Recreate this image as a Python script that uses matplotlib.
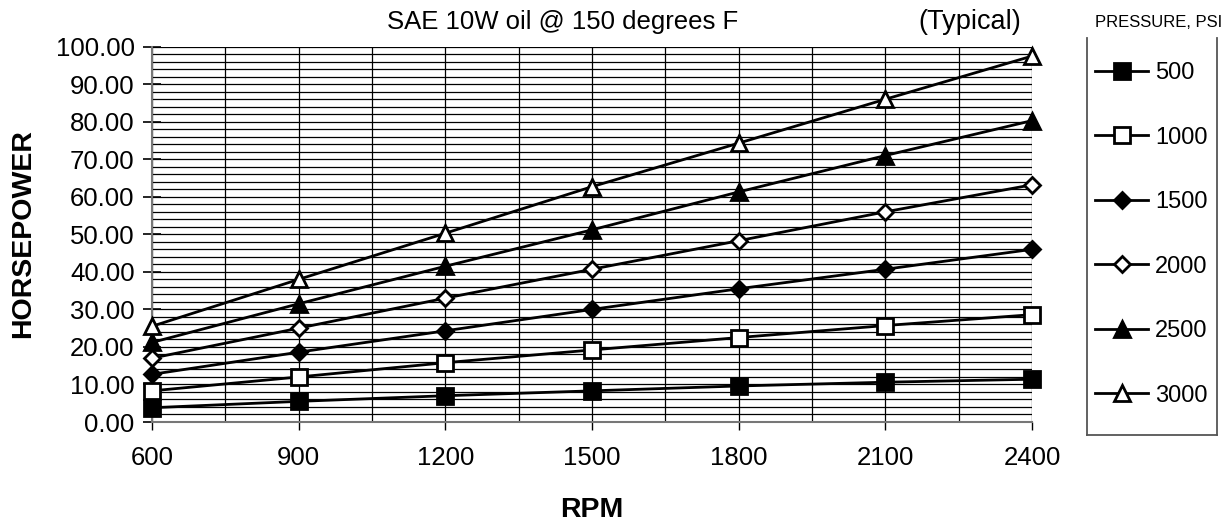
import matplotlib
matplotlib.use("Agg")
import matplotlib.pyplot as plt
from matplotlib.ticker import MultipleLocator, FormatStrFormatter
from matplotlib.lines import Line2D

plt.rcParams['font.family'] = ['Liberation Sans', 'DejaVu Sans']

rpm = [600, 900, 1200, 1500, 1800, 2100, 2400]
hp_500 = [3.8, 5.5, 7.0, 8.3, 9.6, 10.6, 11.4]
hp_1000 = [8.3, 12.0, 15.8, 19.2, 22.5, 25.7, 28.6]
hp_1500 = [12.7, 18.6, 24.3, 30.0, 35.5, 40.7, 46.0]
hp_2000 = [17.0, 25.0, 33.0, 40.7, 48.3, 56.0, 63.2]
hp_2500 = [21.2, 31.5, 41.5, 51.2, 61.3, 71.0, 80.3]
hp_3000 = [25.5, 38.0, 50.3, 62.7, 74.3, 86.0, 97.5]
labels = ['500', '1000', '1500', '2000', '2500', '3000']

series = [hp_500, hp_1000, hp_1500, hp_2000, hp_2500, hp_3000]
styles = [('s', 'black', 11), ('s', 'white', 11), ('D', 'black', 8.5),
          ('D', 'white', 8.5), ('^', 'black', 11), ('^', 'white', 11)]

W, H = 1226, 523
fig = plt.figure(figsize=(W / 100, H / 100), dpi=100)
L, R, T, B = 152, 1032, 46.7, 422
ax = fig.add_axes([L / W, 1 - B / H, (R - L) / W, (B - T) / H])

handles = []
for ys, (m, fc, ms), lab in zip(series, styles, labels):
    h, = ax.plot(rpm, ys, color='black', lw=2, marker=m, markerfacecolor=fc,
                 markeredgecolor='black', markeredgewidth=2, markersize=ms,
                 label=lab, clip_on=False, zorder=3)
    handles.append(h)

ax.set_xlim(600, 2400)
ax.set_ylim(0, 100)
ax.xaxis.set_major_locator(MultipleLocator(300))
ax.xaxis.set_minor_locator(MultipleLocator(150))
ax.yaxis.set_major_locator(MultipleLocator(10))
ax.yaxis.set_minor_locator(MultipleLocator(2))
ax.yaxis.set_major_formatter(FormatStrFormatter('%.2f'))
ax.grid(which='both', color='black', lw=0.9)
ax.set_axisbelow(True)
ax.tick_params(axis='y', which='major', direction='inout', length=13, width=1.2,
               labelsize=18.5, pad=6, color='black')
ax.tick_params(axis='y', which='minor', length=0)
ax.tick_params(axis='x', which='major', direction='out', length=6, width=1,
               labelsize=18.5, pad=11)
ax.tick_params(axis='x', which='minor', length=0)
for s in ['top', 'right']:
    ax.spines[s].set_visible(False)
ax.spines['left'].set_color('#777777')
ax.spines['left'].set_linewidth(1.5)
ax.spines['bottom'].set_color('#777777')
ax.spines['bottom'].set_linewidth(1.5)

fig.text(23 / W, 1 - 234 / H, 'HORSEPOWER', rotation=90, ha='center', va='center',
         fontsize=20.5, fontweight='bold')
fig.text(592 / W, 1 - 517 / H, 'RPM', ha='center', va='baseline',
         fontsize=20.5, fontweight='bold')
fig.text(563 / W, 1 - 29 / H, 'SAE 10W oil @ 150 degrees F', ha='center', va='baseline',
         fontsize=18.5)
fig.text(970 / W, 1 - 29 / H, '(Typical)', ha='center', va='baseline', fontsize=19.5)
fig.text(1222 / W, 1 - 27 / H, 'PRESSURE, PSI', ha='right', va='baseline', fontsize=12)

# legend box (left, right, bottom borders)
x0, x1, yt, yb = 1087 / W, 1217 / W, 1 - 38 / H, 1 - 435 / H
for xs, ys_ in [([x0, x0], [yt, yb]), ([x1, x1], [yt, yb]), ([x0, x1], [yb, yb])]:
    fig.add_artist(Line2D(xs, ys_, color='#555555', lw=1.3, transform=fig.transFigure))

leg = fig.legend(handles=handles, loc='upper left', bbox_to_anchor=(1095 / W, 1 - 62 / H),
                 frameon=False, fontsize=17, handlelength=2.25, handletextpad=0.3,
                 labelspacing=1.8, borderaxespad=0, borderpad=0)

fig.savefig('out.png', dpi=100)
